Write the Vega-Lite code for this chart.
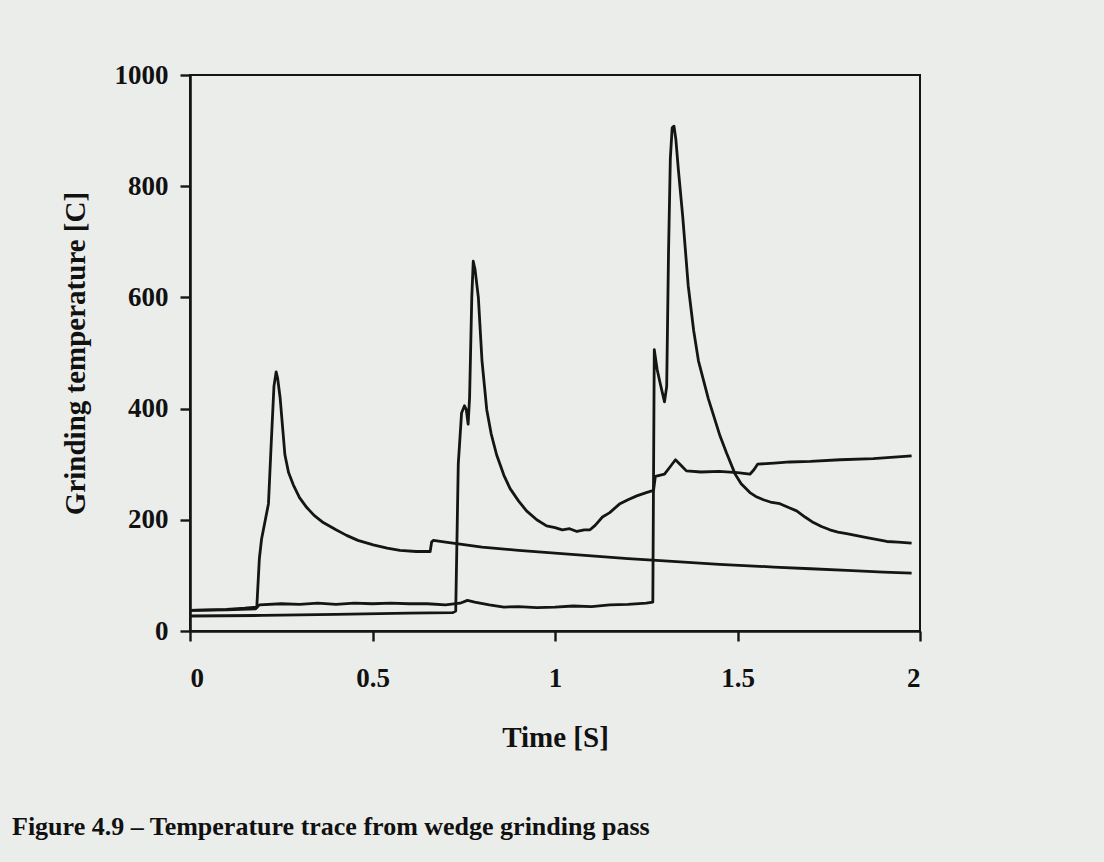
{
  "$schema": "https://vega.github.io/schema/vega-lite/v6.json",
  "width": 730,
  "height": 556,
  "autosize": "none",
  "padding": {"left": 190, "top": 75, "right": 184, "bottom": 231},
  "background": "#ebedeb",
  "title": {
    "text": "Figure 4.9 – Temperature trace from wedge grinding pass",
    "orient": "bottom",
    "anchor": "start",
    "frame": "group",
    "dx": -178,
    "offset": 62,
    "font": "Liberation Serif",
    "fontSize": 26,
    "fontWeight": "bold",
    "color": "#111111"
  },
  "data": {
    "values": [
      {"s": "C1", "t": 0, "v": 37}, {"s": "C1", "t": 0.05, "v": 38}, {"s": "C1", "t": 0.1, "v": 39}, {"s": "C1", "t": 0.15, "v": 41}, {"s": "C1", "t": 0.183, "v": 43},
      {"s": "C1", "t": 0.19, "v": 130}, {"s": "C1", "t": 0.196, "v": 165}, {"s": "C1", "t": 0.215, "v": 229}, {"s": "C1", "t": 0.222, "v": 330}, {"s": "C1", "t": 0.23, "v": 440},
      {"s": "C1", "t": 0.236, "v": 466}, {"s": "C1", "t": 0.24, "v": 455}, {"s": "C1", "t": 0.247, "v": 419}, {"s": "C1", "t": 0.26, "v": 317}, {"s": "C1", "t": 0.27, "v": 285},
      {"s": "C1", "t": 0.283, "v": 263}, {"s": "C1", "t": 0.3, "v": 240}, {"s": "C1", "t": 0.32, "v": 222}, {"s": "C1", "t": 0.34, "v": 208}, {"s": "C1", "t": 0.365, "v": 195},
      {"s": "C1", "t": 0.4, "v": 182}, {"s": "C1", "t": 0.429, "v": 172}, {"s": "C1", "t": 0.46, "v": 163}, {"s": "C1", "t": 0.502, "v": 155}, {"s": "C1", "t": 0.54, "v": 149},
      {"s": "C1", "t": 0.575, "v": 145}, {"s": "C1", "t": 0.62, "v": 143}, {"s": "C1", "t": 0.658, "v": 143}, {"s": "C1", "t": 0.662, "v": 160}, {"s": "C1", "t": 0.667, "v": 163},
      {"s": "C1", "t": 0.7, "v": 160}, {"s": "C1", "t": 0.8, "v": 151}, {"s": "C1", "t": 0.9, "v": 145}, {"s": "C1", "t": 1.0, "v": 140}, {"s": "C1", "t": 1.1, "v": 135},
      {"s": "C1", "t": 1.2, "v": 130}, {"s": "C1", "t": 1.3, "v": 126}, {"s": "C1", "t": 1.45, "v": 120}, {"s": "C1", "t": 1.6, "v": 115}, {"s": "C1", "t": 1.7, "v": 112},
      {"s": "C1", "t": 1.8, "v": 109}, {"s": "C1", "t": 1.9, "v": 106}, {"s": "C1", "t": 1.977, "v": 104},

      {"s": "C2", "t": 0, "v": 27}, {"s": "C2", "t": 0.2, "v": 28}, {"s": "C2", "t": 0.4, "v": 30}, {"s": "C2", "t": 0.6, "v": 32}, {"s": "C2", "t": 0.72, "v": 33},
      {"s": "C2", "t": 0.728, "v": 36}, {"s": "C2", "t": 0.735, "v": 300}, {"s": "C2", "t": 0.744, "v": 392}, {"s": "C2", "t": 0.752, "v": 405}, {"s": "C2", "t": 0.757, "v": 398},
      {"s": "C2", "t": 0.762, "v": 372}, {"s": "C2", "t": 0.766, "v": 420}, {"s": "C2", "t": 0.772, "v": 600}, {"s": "C2", "t": 0.776, "v": 665}, {"s": "C2", "t": 0.781, "v": 650},
      {"s": "C2", "t": 0.79, "v": 600}, {"s": "C2", "t": 0.8, "v": 486}, {"s": "C2", "t": 0.813, "v": 398}, {"s": "C2", "t": 0.825, "v": 355}, {"s": "C2", "t": 0.84, "v": 317},
      {"s": "C2", "t": 0.86, "v": 280}, {"s": "C2", "t": 0.877, "v": 256}, {"s": "C2", "t": 0.9, "v": 234}, {"s": "C2", "t": 0.922, "v": 216}, {"s": "C2", "t": 0.95, "v": 200},
      {"s": "C2", "t": 0.977, "v": 189}, {"s": "C2", "t": 1.0, "v": 186}, {"s": "C2", "t": 1.02, "v": 182}, {"s": "C2", "t": 1.04, "v": 184}, {"s": "C2", "t": 1.06, "v": 179},
      {"s": "C2", "t": 1.08, "v": 182}, {"s": "C2", "t": 1.096, "v": 182}, {"s": "C2", "t": 1.11, "v": 190}, {"s": "C2", "t": 1.13, "v": 205}, {"s": "C2", "t": 1.15, "v": 213},
      {"s": "C2", "t": 1.178, "v": 229}, {"s": "C2", "t": 1.2, "v": 236}, {"s": "C2", "t": 1.224, "v": 243}, {"s": "C2", "t": 1.25, "v": 249}, {"s": "C2", "t": 1.27, "v": 253},
      {"s": "C2", "t": 1.275, "v": 278}, {"s": "C2", "t": 1.3, "v": 282}, {"s": "C2", "t": 1.315, "v": 295}, {"s": "C2", "t": 1.33, "v": 308}, {"s": "C2", "t": 1.345, "v": 298},
      {"s": "C2", "t": 1.36, "v": 288}, {"s": "C2", "t": 1.4, "v": 286}, {"s": "C2", "t": 1.45, "v": 287}, {"s": "C2", "t": 1.5, "v": 285}, {"s": "C2", "t": 1.534, "v": 282},
      {"s": "C2", "t": 1.545, "v": 290}, {"s": "C2", "t": 1.555, "v": 300}, {"s": "C2", "t": 1.6, "v": 302}, {"s": "C2", "t": 1.644, "v": 304}, {"s": "C2", "t": 1.7, "v": 305},
      {"s": "C2", "t": 1.781, "v": 308}, {"s": "C2", "t": 1.872, "v": 310}, {"s": "C2", "t": 1.977, "v": 315},

      {"s": "C3", "t": 0, "v": 37}, {"s": "C3", "t": 0.1, "v": 38}, {"s": "C3", "t": 0.18, "v": 40}, {"s": "C3", "t": 0.19, "v": 47}, {"s": "C3", "t": 0.25, "v": 49},
      {"s": "C3", "t": 0.3, "v": 48}, {"s": "C3", "t": 0.35, "v": 50}, {"s": "C3", "t": 0.4, "v": 48}, {"s": "C3", "t": 0.45, "v": 50}, {"s": "C3", "t": 0.5, "v": 49},
      {"s": "C3", "t": 0.55, "v": 50}, {"s": "C3", "t": 0.6, "v": 49}, {"s": "C3", "t": 0.65, "v": 49}, {"s": "C3", "t": 0.7, "v": 47}, {"s": "C3", "t": 0.74, "v": 50},
      {"s": "C3", "t": 0.76, "v": 55}, {"s": "C3", "t": 0.78, "v": 52}, {"s": "C3", "t": 0.82, "v": 47}, {"s": "C3", "t": 0.86, "v": 43}, {"s": "C3", "t": 0.9, "v": 44},
      {"s": "C3", "t": 0.95, "v": 42}, {"s": "C3", "t": 1.0, "v": 43}, {"s": "C3", "t": 1.05, "v": 45}, {"s": "C3", "t": 1.1, "v": 44}, {"s": "C3", "t": 1.15, "v": 47},
      {"s": "C3", "t": 1.2, "v": 48}, {"s": "C3", "t": 1.25, "v": 50}, {"s": "C3", "t": 1.268, "v": 52}, {"s": "C3", "t": 1.272, "v": 506}, {"s": "C3", "t": 1.28, "v": 470},
      {"s": "C3", "t": 1.288, "v": 446}, {"s": "C3", "t": 1.3, "v": 412}, {"s": "C3", "t": 1.306, "v": 440}, {"s": "C3", "t": 1.311, "v": 680}, {"s": "C3", "t": 1.316, "v": 850},
      {"s": "C3", "t": 1.321, "v": 905}, {"s": "C3", "t": 1.326, "v": 908}, {"s": "C3", "t": 1.331, "v": 885}, {"s": "C3", "t": 1.338, "v": 830}, {"s": "C3", "t": 1.35, "v": 745}, {"s": "C3", "t": 1.365, "v": 621},
      {"s": "C3", "t": 1.38, "v": 540}, {"s": "C3", "t": 1.393, "v": 486}, {"s": "C3", "t": 1.42, "v": 418}, {"s": "C3", "t": 1.452, "v": 351}, {"s": "C3", "t": 1.47, "v": 320},
      {"s": "C3", "t": 1.493, "v": 283}, {"s": "C3", "t": 1.51, "v": 265}, {"s": "C3", "t": 1.534, "v": 249}, {"s": "C3", "t": 1.55, "v": 242}, {"s": "C3", "t": 1.571, "v": 236},
      {"s": "C3", "t": 1.59, "v": 232}, {"s": "C3", "t": 1.616, "v": 229}, {"s": "C3", "t": 1.64, "v": 222}, {"s": "C3", "t": 1.662, "v": 216}, {"s": "C3", "t": 1.685, "v": 205},
      {"s": "C3", "t": 1.708, "v": 195}, {"s": "C3", "t": 1.73, "v": 188}, {"s": "C3", "t": 1.753, "v": 182}, {"s": "C3", "t": 1.775, "v": 178}, {"s": "C3", "t": 1.799, "v": 175},
      {"s": "C3", "t": 1.83, "v": 171}, {"s": "C3", "t": 1.854, "v": 168}, {"s": "C3", "t": 1.88, "v": 165}, {"s": "C3", "t": 1.909, "v": 161}, {"s": "C3", "t": 1.94, "v": 160},
      {"s": "C3", "t": 1.977, "v": 158}
    ]
  },
  "mark": {"type": "line", "color": "#151515", "strokeWidth": 2.8, "strokeJoin": "round"},
  "encoding": {
    "x": {
      "field": "t", "type": "quantitative",
      "scale": {"domain": [0, 2], "nice": false, "zero": false},
      "axis": {
        "title": "Time [S]",
        "values": [0, 0.5, 1, 1.5, 2],
        "format": "~g",
        "grid": false,
        "tickSize": 10,
        "labelPadding": 24,
        "titlePadding": 32,
        "titleFontSize": 29
      }
    },
    "y": {
      "field": "v", "type": "quantitative",
      "scale": {"domain": [0, 1000], "nice": false},
      "axis": {
        "title": "Grinding temperature [C]",
        "values": [0, 200, 400, 600, 800, 1000],
        "format": "d",
        "grid": false,
        "tickSize": 10,
        "labelPadding": 12,
        "titlePadding": 24,
        "titleFontSize": 29
      }
    },
    "detail": {"field": "s", "type": "nominal"}
  },
  "config": {
    "view": {"stroke": "#151515", "strokeWidth": 2},
    "axis": {
      "domainColor": "#151515",
      "domainWidth": 2.6,
      "tickColor": "#151515",
      "tickWidth": 2.4,
      "labelFont": "Liberation Serif",
      "labelFontSize": 27,
      "labelFontWeight": "bold",
      "labelColor": "#111111",
      "titleFont": "Liberation Serif",
      "titleFontWeight": "bold",
      "titleColor": "#111111"
    }
  }
}
